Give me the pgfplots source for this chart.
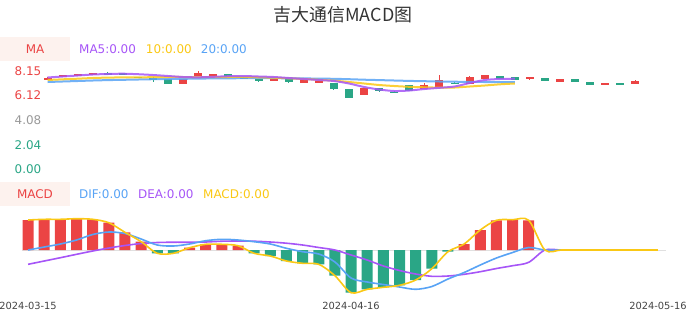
\documentclass[border=0pt]{standalone}
\usepackage{pgfplots}
\pgfplotsset{compat=1.18}
\usepackage{pgfplotstable}
\usepackage{fontspec}
\setmainfont{DejaVu Sans}
\newfontfamily\cjk{Noto Sans CJK SC}
\definecolor{cRed}{RGB}{235,68,68}
\definecolor{cGreen}{RGB}{42,166,134}
\definecolor{cPurple}{RGB}{166,85,247}
\definecolor{cYellow}{RGB}{250,200,21}
\definecolor{cBlue}{RGB}{88,163,245}
\definecolor{cBox}{RGB}{253,242,238}
\definecolor{cTitle}{RGB}{51,51,51}
\definecolor{cGrayTxt}{RGB}{153,153,153}
\definecolor{cDate}{RGB}{68,68,68}
\definecolor{cZero}{RGB}{224,224,224}

% up candles (red): index open close high low
\pgfplotstableread{
i o c h l
0 7.404 7.595 7.62 7.39
1 7.628 7.818 7.83 7.62
2 7.711 7.876 7.89 7.70
3 7.794 8.009 8.02 7.78
9 7.097 7.462 7.47 7.08
10 7.735 8.009 8.150 7.72
11 7.794 7.926 7.94 7.78
15 7.296 7.462 7.47 7.29
17 7.180 7.379 7.39 7.17
18 7.180 7.346 7.35 7.17
21 6.135 6.716 6.72 6.13
25 6.633 6.964 7.130 6.62
26 6.848 7.404 7.818 6.84
28 7.047 7.653 7.735 7.04
29 7.512 7.794 7.80 7.50
32 7.462 7.628 7.64 7.404
34 7.263 7.462 7.47 7.25
37 6.964 7.180 7.19 6.95
39 7.072 7.321 7.379 7.06
}\upK
% down candles (green)
\pgfplotstableread{
i o c h l
4 8.009 7.876 8.067 7.86
5 7.951 7.926 7.96 7.92
6 7.677 7.570 7.69 7.56
7 7.570 7.487 7.653 7.238
8 7.462 7.097 7.47 7.08
12 7.876 7.735 7.89 7.72
13 7.600 7.590 7.62 7.57
14 7.512 7.296 7.52 7.28
16 7.462 7.238 7.47 7.180
19 7.130 6.683 7.14 6.550
20 6.633 5.936 6.64 5.93
22 6.765 6.492 6.77 6.409
23 6.440 6.430 6.46 6.41
24 6.964 6.492 6.97 6.48
27 7.190 7.170 7.24 7.05
30 7.735 7.512 7.74 7.50
31 7.653 7.404 7.66 7.40
33 7.545 7.296 7.55 7.29
35 7.462 7.263 7.512 7.25
36 7.263 6.989 7.27 6.98
38 7.180 7.014 7.19 7.00
}\downK
% moving averages
\pgfplotstableread{
i ma5 ma10 ma20
0 7.611 7.404 7.238
1 7.694 7.462 7.280
2 7.777 7.512 7.321
3 7.860 7.570 7.362
4 7.901 7.603 7.396
5 7.926 7.620 7.420
6 7.885 7.628 7.445
7 7.818 7.636 7.470
8 7.735 7.653 7.487
9 7.653 7.653 7.503
10 7.628 7.653 7.520
11 7.669 7.653 7.536
12 7.719 7.653 7.545
13 7.735 7.653 7.553
14 7.694 7.628 7.553
15 7.653 7.595 7.553
16 7.570 7.545 7.545
17 7.487 7.487 7.536
18 7.404 7.420 7.520
19 7.321 7.346 7.503
20 7.114 7.238 7.470
21 6.824 7.114 7.429
22 6.616 6.989 7.396
23 6.492 6.906 7.362
24 6.533 6.840 7.329
25 6.658 6.799 7.304
26 6.757 6.774 7.280
27 6.865 6.782 7.263
28 7.155 6.865 7.246
29 7.404 6.948 7.238
30 7.487 7.047 7.230
31 7.512 7.114 7.222
}\maT
% MACD
\pgfplotstableread{
i dif dea macd
0 0.000 -0.143 0.300
1 0.030 -0.110 0.307
2 0.060 -0.077 0.307
3 0.100 -0.043 0.313
4 0.155 -0.010 0.307
5 0.180 0.020 0.273
6 0.165 0.045 0.177
7 0.110 0.065 0.083
8 0.050 0.075 -0.033
9 0.040 0.078 -0.033
10 0.060 0.078 0.023
11 0.093 0.080 0.057
12 0.107 0.088 0.057
13 0.100 0.090 0.043
14 0.083 0.088 -0.033
15 0.060 0.080 -0.060
16 0.017 0.068 -0.110
17 -0.017 0.050 -0.133
18 -0.040 0.025 -0.143
19 -0.120 0.000 -0.257
20 -0.280 -0.050 -0.427
21 -0.320 -0.100 -0.393
22 -0.345 -0.160 -0.373
23 -0.370 -0.205 -0.353
24 -0.393 -0.240 -0.300
25 -0.365 -0.263 -0.187
26 -0.290 -0.260 -0.017
27 -0.225 -0.243 0.060
28 -0.150 -0.217 0.200
29 -0.080 -0.185 0.297
30 -0.025 -0.157 0.303
31 0.025 -0.123 0.297
32 0 0 0
33 0 0 0
34 0 0 0
35 0 0 0
36 0 0 0
37 0 0 0
38 0 0 0
39 0 0 0
}\macdT

\pgfplotsset{
  wick/.style={draw=none, forget plot,
    error bars/.cd, y dir=both, y explicit, error mark=none,
    error bar style={draw=#1, line width=1bp}},
  body/.style={draw=none, forget plot,
    error bars/.cd, y dir=both, y explicit, error mark=none,
    error bar style={draw=#1, line width=8bp}},
}

\begin{document}
\begin{tikzpicture}[x=1bp,y=1bp]
\useasboundingbox (0,0) rectangle (686,-320);
% title
\node[font=\cjk\fontsize{18}{21}\selectfont, text=cTitle] at (343,-15) {吉大通信MACD图};
% MA legend
\fill[cBox] (0,-36.7) rectangle (70,-60.7);
\node[text=cRed, inner sep=0, font=\fontsize{12}{14}\selectfont] at (35,-48.7) {MA};
\node[anchor=west, inner sep=0, text=cPurple, font=\fontsize{12}{14}\selectfont] at (79,-48.7) {MA5:0.00};
\node[anchor=west, inner sep=0, text=cYellow, font=\fontsize{12}{14}\selectfont] at (145.7,-48.7) {10:0.00};
\node[anchor=west, inner sep=0, text=cBlue, font=\fontsize{12}{14}\selectfont] at (200.7,-48.7) {20:0.00};
% MACD legend
\fill[cBox] (0,-181.7) rectangle (70,-205.7);
\node[text=cRed, inner sep=0, font=\fontsize{12}{14}\selectfont] at (35,-193.8) {MACD};
\node[anchor=west, inner sep=0, text=cBlue, font=\fontsize{12}{14}\selectfont] at (79,-193.8) {DIF:0.00};
\node[anchor=west, inner sep=0, text=cPurple, font=\fontsize{12}{14}\selectfont] at (138,-193.8) {DEA:0.00};
\node[anchor=west, inner sep=0, text=cYellow, font=\fontsize{12}{14}\selectfont] at (203,-193.8) {MACD:0.00};

% ---------- candlestick panel ----------
\begin{axis}[
  at={(40bp,-169.3bp)}, anchor=south west,
  scale only axis, width=603bp, height=98.3bp,
  xmin=-0.5, xmax=39.5, ymin=0, ymax=8.15,
  clip=false,
  axis line style={draw=none}, major tick length=0pt,
  xtick=\empty,
  ytick={0,2.0375,4.075,6.1125,8.15},
  yticklabels={\textcolor{cGreen}{0.00},\textcolor{cGreen}{2.04},\textcolor{cGrayTxt}{4.08},\textcolor{cRed}{6.12},\textcolor{cRed}{8.15}},
  yticklabel style={anchor=east, inner sep=0pt, xshift=1.5bp, font=\fontsize{12}{14}\selectfont},
]
\addplot[wick=cRed] table[x=i, y expr={(\thisrow{o}+\thisrow{c})/2},
  y error plus expr={\thisrow{h}-(\thisrow{o}+\thisrow{c})/2},
  y error minus expr={(\thisrow{o}+\thisrow{c})/2-\thisrow{l}}] {\upK};
\addplot[body=cRed] table[x=i, y expr={(\thisrow{o}+\thisrow{c})/2},
  y error expr={max(abs(\thisrow{o}-\thisrow{c})/2,0.015)}] {\upK};
\addplot[wick=cGreen] table[x=i, y expr={(\thisrow{o}+\thisrow{c})/2},
  y error plus expr={\thisrow{h}-(\thisrow{o}+\thisrow{c})/2},
  y error minus expr={(\thisrow{o}+\thisrow{c})/2-\thisrow{l}}] {\downK};
\addplot[body=cGreen] table[x=i, y expr={(\thisrow{o}+\thisrow{c})/2},
  y error expr={max(abs(\thisrow{o}-\thisrow{c})/2,0.015)}] {\downK};
\addplot[cBlue, line width=2bp, opacity=0.85, smooth, no marks] table[x=i, y=ma20] {\maT};
\addplot[cYellow, line width=2bp, opacity=0.85, smooth, no marks] table[x=i, y=ma10] {\maT};
\addplot[cPurple, line width=2bp, opacity=0.85, smooth, no marks] table[x=i, y=ma5] {\maT};
\end{axis}

% ---------- MACD panel ----------
\begin{axis}[
  at={(20bp,-300bp)}, anchor=south west,
  scale only axis, width=646bp, height=90bp,
  xmin=-0.5, xmax=39.5, ymin=-0.5, ymax=0.4,
  clip=false,
  axis line style={draw=none}, major tick length=0pt,
  ytick=\empty,
  xtick={0,20,39},
  xticklabels={2024-03-15,2024-04-16,2024-05-16},
  xticklabel style={anchor=north, inner sep=0pt, yshift=-1.8bp, text=cDate, font=\fontsize{9.9}{12}\selectfont},
]
\addplot[cZero, line width=1bp, no marks] coordinates {(-0.4,0) (39.5,0)};
\addplot[ybar, bar width=11bp, bar shift=0pt, fill=cRed, draw=none] coordinates {
(0,0.300) (1,0.307) (2,0.307) (3,0.313) (4,0.307) (5,0.273) (6,0.177) (7,0.083)
(10,0.023) (11,0.057) (12,0.057) (13,0.043)
(27,0.060) (28,0.200) (29,0.297) (30,0.303) (31,0.297)};
\addplot[ybar, bar width=11bp, bar shift=0pt, fill=cGreen, draw=none] coordinates {
(8,-0.033) (9,-0.033) (14,-0.033) (15,-0.060) (16,-0.110) (17,-0.133) (18,-0.143)
(19,-0.257) (20,-0.427) (21,-0.393) (22,-0.373) (23,-0.353) (24,-0.300) (25,-0.187) (26,-0.017)};
\addplot[cPurple, line width=1.6bp, smooth, no marks] table[x=i, y=dea] {\macdT};
\addplot[cBlue, line width=1.6bp, smooth, no marks] table[x=i, y=dif] {\macdT};
\addplot[cYellow, line width=1.6bp, smooth, no marks] table[x=i, y=macd] {\macdT};
\end{axis}
\end{tikzpicture}
\end{document}
